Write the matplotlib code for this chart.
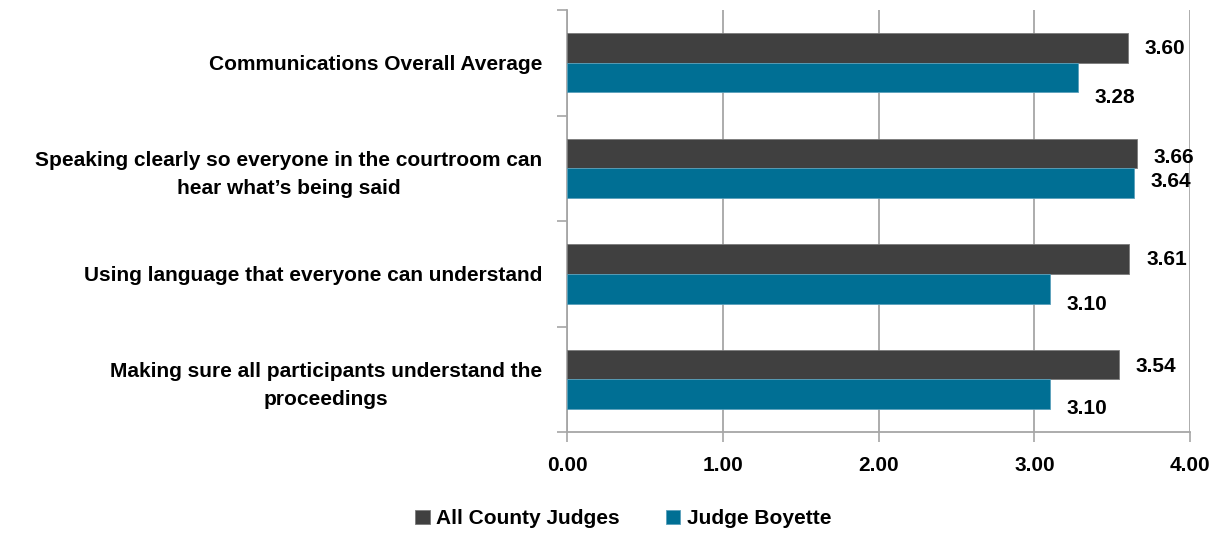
import matplotlib.pyplot as plt
import numpy as np
from matplotlib import font_manager

names = {f.name for f in font_manager.fontManager.ttflist}
fam = ["Liberation Sans Narrow", "DejaVu Sans"] if "Liberation Sans Narrow" in names else ["Liberation Sans", "DejaVu Sans"]
plt.rcParams["font.family"] = fam
plt.rcParams["font.weight"] = "bold"

categories = [
    "Communications Overall Average",
    "Speaking clearly so everyone in the courtroom can\nhear what\u2019s being said",
    "Using language that everyone can understand",
    "Making sure all participants understand the\nproceedings",
]
all_judges = [3.60, 3.66, 3.61, 3.54]
boyette = [3.28, 3.64, 3.10, 3.10]
series_names = ["All County Judges", "Judge Boyette"]
xticks = [0, 1, 2, 3, 4]

# vertical nudge (points) for each value label, as in the original
dark_off = [0, -3, 0, -1]
blue_off = [-14, 1, -11, -10]

dark = "#404040"
blue = "#006F94"
grid = "#A6A6A6"

fig = plt.figure(figsize=(12.22, 5.33), dpi=100)
ax = fig.add_axes([0.464, 0.189, 0.510, 0.792])

y = np.arange(len(categories))
h = 0.28
ax.barh(y - h / 2, all_judges, height=h, color=dark, edgecolor="#7a7a7a", linewidth=0.6, label=series_names[0], zorder=3)
ax.barh(y + h / 2, boyette, height=h, color=blue, edgecolor="#5aa0bb", linewidth=0.6, label=series_names[1], zorder=3)

for i in range(len(categories)):
    ax.annotate(f"{all_judges[i]:.2f}", (all_judges[i], y[i] - h / 2), xytext=(12, dark_off[i]),
                textcoords="offset points", va="center", ha="left", fontsize=15, fontweight="bold")
    ax.annotate(f"{boyette[i]:.2f}", (boyette[i], y[i] + h / 2), xytext=(12, blue_off[i]),
                textcoords="offset points", va="center", ha="left", fontsize=15, fontweight="bold")

ax.set_xlim(0, 4)
ax.set_ylim(len(categories) - 0.5, -0.5)
ax.set_xticks(xticks)
ax.set_xticklabels([f"{v:.2f}" for v in xticks], fontsize=15, fontweight="bold")
ax.set_yticks(y)
ax.set_yticklabels(categories, fontsize=15, fontweight="bold", ha="right", multialignment="center")
for t in ax.get_yticklabels():
    t.set_linespacing(1.55)
ax.set_yticks(np.arange(-0.5, len(categories)), minor=True)
ax.tick_params(axis="y", which="major", length=0, pad=18)
ax.tick_params(axis="y", which="minor", length=7, width=1.2, color=grid)
ax.tick_params(axis="x", length=7, width=1.2, color=grid, pad=10)

ax.grid(axis="x", color=grid, linewidth=1.3, zorder=0)
for s in ["top", "right"]:
    ax.spines[s].set_visible(False)
for s in ["left", "bottom"]:
    ax.spines[s].set_color(grid)
    ax.spines[s].set_linewidth(1.3)

fig.legend(loc="center", bbox_to_anchor=(0.51, 0.027), ncol=2, frameon=False,
           prop={"size": 15, "weight": "bold"}, handlelength=0.7, handleheight=0.7,
           handletextpad=0.3, columnspacing=2.2)

fig.savefig("out.png", dpi=100)
